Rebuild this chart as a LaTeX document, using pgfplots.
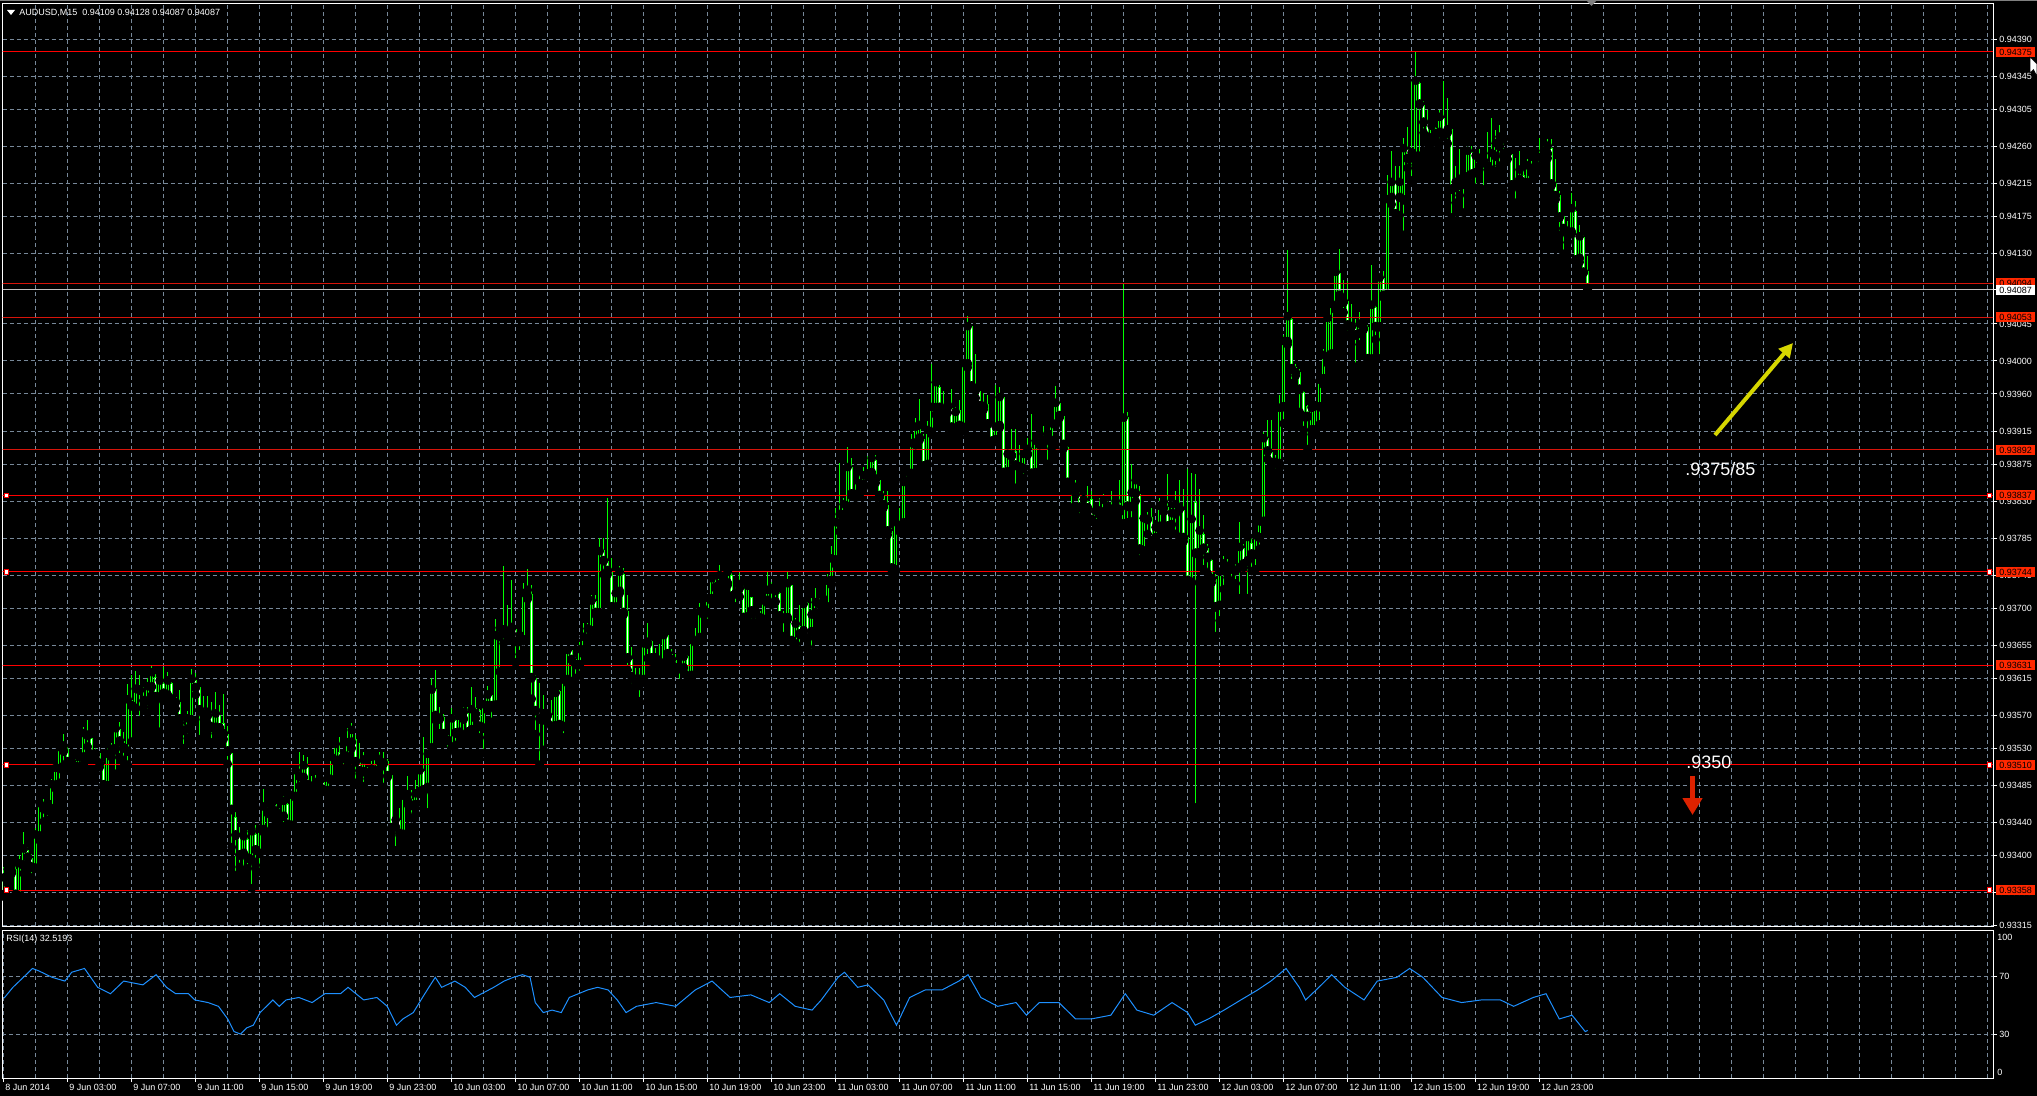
\documentclass[border=0pt]{standalone}
\usepackage{pgfplots}
\pgfplotsset{compat=1.18}
\usepackage{pgfplotstable}
\usepackage{fontspec}
\setmainfont{Liberation Sans}
\newfontfamily\djv{DejaVu Sans}
\usetikzlibrary{arrows.meta}

\definecolor{gridc}{RGB}{119,136,153}
\definecolor{candle}{RGB}{0,255,0}
\definecolor{lvl}{RGB}{255,0,0}
\definecolor{lvld}{RGB}{215,20,10}
\definecolor{lblred}{RGB}{255,40,0}
\definecolor{rsic}{RGB}{30,144,255}
\definecolor{arrowy}{RGB}{214,214,0}
\definecolor{arrowr}{RGB}{221,34,0}

\pgfplotstableread{
i O H L C
0 0.93352 0.93386 0.93350 0.93372
1 0.93374 0.93386 0.93366 0.93382
2 0.93380 0.93390 0.93378 0.93387
3 0.93384 0.93388 0.93348 0.93352
4 0.93350 0.93400 0.93340 0.93389
5 0.93387 0.93429 0.93378 0.93407
6 0.93406 0.93410 0.93390 0.93397
7 0.93397 0.93402 0.93373 0.93385
8 0.93384 0.93433 0.93384 0.93424
9 0.93423 0.93468 0.93418 0.93462
10 0.93462 0.93469 0.93441 0.93456
11 0.93454 0.93465 0.93443 0.93462
12 0.93456 0.93493 0.93456 0.93485
13 0.93485 0.93507 0.93481 0.93505
14 0.93505 0.93530 0.93488 0.93530
15 0.93526 0.93547 0.93509 0.93532
16 0.93529 0.93534 0.93505 0.93513
17 0.93515 0.93519 0.93503 0.93513
18 0.93514 0.93517 0.93501 0.93507
19 0.93507 0.93520 0.93507 0.93518
20 0.93519 0.93556 0.93511 0.93547
21 0.93547 0.93564 0.93532 0.93545
22 0.93542 0.93543 0.93519 0.93522
23 0.93526 0.93530 0.93517 0.93522
24 0.93524 0.93526 0.93507 0.93511
25 0.93510 0.93514 0.93479 0.93485
26 0.93484 0.93530 0.93483 0.93522
27 0.93524 0.93536 0.93519 0.93528
28 0.93529 0.93556 0.93499 0.93553
29 0.93554 0.93562 0.93519 0.93538
30 0.93539 0.93550 0.93513 0.93530
31 0.93526 0.93608 0.93510 0.93588
32 0.93589 0.93619 0.93538 0.93581
33 0.93578 0.93624 0.93578 0.93601
34 0.93602 0.93619 0.93564 0.93600
35 0.93593 0.93604 0.93580 0.93587
36 0.93587 0.93615 0.93573 0.93604
37 0.93604 0.93630 0.93594 0.93621
38 0.93617 0.93620 0.93587 0.93592
39 0.93592 0.93613 0.93550 0.93611
40 0.93609 0.93629 0.93590 0.93596
41 0.93594 0.93623 0.93593 0.93611
42 0.93609 0.93611 0.93587 0.93589
43 0.93592 0.93592 0.93578 0.93585
44 0.93586 0.93601 0.93561 0.93565
45 0.93558 0.93567 0.93530 0.93551
46 0.93553 0.93575 0.93542 0.93565
47 0.93564 0.93626 0.93562 0.93613
48 0.93613 0.93621 0.93595 0.93603
49 0.93604 0.93605 0.93541 0.93576
50 0.93578 0.93594 0.93565 0.93570
51 0.93569 0.93594 0.93560 0.93573
52 0.93575 0.93586 0.93537 0.93555
53 0.93555 0.93598 0.93548 0.93571
54 0.93571 0.93583 0.93541 0.93554
55 0.93561 0.93596 0.93541 0.93547
56 0.93547 0.93557 0.93511 0.93526
57 0.93524 0.93528 0.93410 0.93455
58 0.93447 0.93453 0.93376 0.93424
59 0.93424 0.93435 0.93386 0.93400
60 0.93402 0.93426 0.93381 0.93422
61 0.93420 0.93431 0.93384 0.93396
62 0.93394 0.93431 0.93360 0.93428
63 0.93426 0.93437 0.93388 0.93406
64 0.93402 0.93433 0.93380 0.93431
65 0.93431 0.93480 0.93428 0.93458
66 0.93457 0.93460 0.93428 0.93451
67 0.93453 0.93463 0.93447 0.93461
68 0.93462 0.93463 0.93441 0.93453
69 0.93452 0.93457 0.93445 0.93447
70 0.93447 0.93472 0.93435 0.93465
71 0.93462 0.93463 0.93437 0.93437
72 0.93436 0.93477 0.93435 0.93472
73 0.93471 0.93507 0.93470 0.93502
74 0.93501 0.93525 0.93484 0.93495
75 0.93494 0.93522 0.93485 0.93508
76 0.93507 0.93519 0.93484 0.93485
77 0.93485 0.93496 0.93481 0.93483
78 0.93485 0.93497 0.93475 0.93487
79 0.93490 0.93498 0.93484 0.93492
80 0.93489 0.93491 0.93478 0.93479
81 0.93478 0.93496 0.93477 0.93493
82 0.93491 0.93519 0.93491 0.93518
83 0.93515 0.93536 0.93514 0.93534
84 0.93526 0.93544 0.93507 0.93515
85 0.93517 0.93526 0.93505 0.93521
86 0.93519 0.93555 0.93509 0.93536
87 0.93537 0.93561 0.93530 0.93551
88 0.93541 0.93546 0.93488 0.93513
89 0.93517 0.93536 0.93499 0.93502
90 0.93501 0.93525 0.93484 0.93515
91 0.93503 0.93507 0.93493 0.93499
92 0.93502 0.93514 0.93493 0.93504
93 0.93502 0.93522 0.93495 0.93519
94 0.93520 0.93526 0.93505 0.93514
95 0.93514 0.93525 0.93483 0.93511
96 0.93514 0.93517 0.93495 0.93496
97 0.93497 0.93498 0.93433 0.93433
98 0.93434 0.93445 0.93406 0.93442
99 0.93443 0.93457 0.93424 0.93426
100 0.93425 0.93473 0.93422 0.93471
101 0.93466 0.93496 0.93462 0.93473
102 0.93468 0.93479 0.93445 0.93460
103 0.93461 0.93492 0.93451 0.93474
104 0.93477 0.93509 0.93475 0.93502
105 0.93503 0.93544 0.93477 0.93479
106 0.93482 0.93530 0.93452 0.93522
107 0.93530 0.93615 0.93530 0.93600
108 0.93602 0.93625 0.93564 0.93569
109 0.93569 0.93580 0.93548 0.93565
110 0.93568 0.93572 0.93546 0.93547
111 0.93546 0.93548 0.93524 0.93539
112 0.93530 0.93579 0.93530 0.93565
113 0.93564 0.93567 0.93534 0.93548
114 0.93549 0.93570 0.93547 0.93568
115 0.93565 0.93580 0.93544 0.93573
116 0.93573 0.93580 0.93547 0.93549
117 0.93552 0.93604 0.93552 0.93576
118 0.93579 0.93592 0.93566 0.93571
119 0.93576 0.93578 0.93543 0.93556
120 0.93554 0.93586 0.93524 0.93582
121 0.93581 0.93606 0.93576 0.93594
122 0.93595 0.93596 0.93562 0.93581
123 0.93582 0.93687 0.93581 0.93666
124 0.93665 0.93677 0.93623 0.93675
125 0.93674 0.93751 0.93657 0.93673
126 0.93673 0.93704 0.93667 0.93669
127 0.93675 0.93734 0.93669 0.93676
128 0.93675 0.93677 0.93634 0.93659
129 0.93659 0.93671 0.93644 0.93666
130 0.93661 0.93730 0.93660 0.93717
131 0.93714 0.93747 0.93711 0.93721
132 0.93717 0.93728 0.93590 0.93615
133 0.93615 0.93619 0.93547 0.93575
134 0.93575 0.93609 0.93510 0.93565
135 0.93564 0.93595 0.93528 0.93571
136 0.93571 0.93573 0.93561 0.93569
137 0.93570 0.93589 0.93556 0.93556
138 0.93557 0.93601 0.93550 0.93596
139 0.93600 0.93601 0.93554 0.93558
140 0.93556 0.93615 0.93543 0.93612
141 0.93613 0.93650 0.93609 0.93648
142 0.93649 0.93649 0.93611 0.93637
143 0.93638 0.93641 0.93615 0.93631
144 0.93631 0.93659 0.93619 0.93649
145 0.93649 0.93682 0.93644 0.93664
146 0.93663 0.93682 0.93658 0.93674
147 0.93672 0.93716 0.93662 0.93708
148 0.93709 0.93716 0.93692 0.93694
149 0.93694 0.93785 0.93692 0.93768
150 0.93771 0.93785 0.93741 0.93757
151 0.93757 0.93834 0.93741 0.93745
152 0.93745 0.93761 0.93700 0.93701
153 0.93701 0.93720 0.93699 0.93717
154 0.93720 0.93751 0.93718 0.93743
155 0.93742 0.93749 0.93692 0.93694
156 0.93697 0.93716 0.93625 0.93639
157 0.93638 0.93653 0.93603 0.93616
158 0.93616 0.93627 0.93603 0.93609
159 0.93606 0.93627 0.93587 0.93613
160 0.93613 0.93658 0.93611 0.93656
161 0.93656 0.93682 0.93639 0.93658
162 0.93660 0.93662 0.93635 0.93639
163 0.93641 0.93652 0.93631 0.93639
164 0.93640 0.93656 0.93631 0.93633
165 0.93633 0.93672 0.93631 0.93666
166 0.93667 0.93668 0.93641 0.93644
167 0.93644 0.93650 0.93633 0.93637
168 0.93637 0.93644 0.93625 0.93627
169 0.93628 0.93631 0.93609 0.93626
170 0.93627 0.93641 0.93623 0.93640
171 0.93642 0.93643 0.93616 0.93617
172 0.93618 0.93661 0.93616 0.93660
173 0.93660 0.93676 0.93658 0.93659
174 0.93664 0.93706 0.93663 0.93695
175 0.93694 0.93700 0.93692 0.93698
176 0.93694 0.93716 0.93682 0.93711
177 0.93711 0.93741 0.93709 0.93735
178 0.93732 0.93737 0.93724 0.93725
179 0.93728 0.93753 0.93726 0.93739
180 0.93734 0.93739 0.93732 0.93735
181 0.93730 0.93745 0.93728 0.93743
182 0.93740 0.93743 0.93704 0.93714
183 0.93719 0.93726 0.93702 0.93717
184 0.93724 0.93743 0.93714 0.93728
185 0.93728 0.93729 0.93687 0.93688
186 0.93689 0.93728 0.93680 0.93726
187 0.93713 0.93714 0.93682 0.93696
188 0.93701 0.93702 0.93682 0.93695
189 0.93697 0.93698 0.93682 0.93688
190 0.93686 0.93710 0.93684 0.93708
191 0.93709 0.93744 0.93706 0.93721
192 0.93725 0.93732 0.93704 0.93723
193 0.93724 0.93726 0.93708 0.93721
194 0.93718 0.93720 0.93689 0.93690
195 0.93689 0.93696 0.93666 0.93687
196 0.93688 0.93744 0.93686 0.93729
197 0.93728 0.93728 0.93659 0.93660
198 0.93656 0.93688 0.93647 0.93680
199 0.93678 0.93704 0.93649 0.93668
200 0.93672 0.93708 0.93664 0.93704
201 0.93706 0.93708 0.93653 0.93663
202 0.93671 0.93712 0.93646 0.93691
203 0.93694 0.93724 0.93692 0.93706
204 0.93707 0.93712 0.93694 0.93704
205 0.93703 0.93714 0.93698 0.93710
206 0.93701 0.93741 0.93700 0.93732
207 0.93733 0.93775 0.93728 0.93759
208 0.93758 0.93821 0.93753 0.93803
209 0.93803 0.93876 0.93793 0.93813
210 0.93813 0.93834 0.93809 0.93825
211 0.93823 0.93896 0.93821 0.93870
212 0.93871 0.93882 0.93836 0.93838
213 0.93844 0.93851 0.93834 0.93837
214 0.93841 0.93862 0.93838 0.93850
215 0.93850 0.93871 0.93846 0.93860
216 0.93864 0.93885 0.93860 0.93862
217 0.93864 0.93884 0.93858 0.93881
218 0.93880 0.93886 0.93852 0.93856
219 0.93855 0.93859 0.93834 0.93836
220 0.93836 0.93842 0.93822 0.93825
221 0.93825 0.93842 0.93789 0.93793
222 0.93794 0.93797 0.93743 0.93748
223 0.93746 0.93805 0.93744 0.93803
224 0.93805 0.93821 0.93793 0.93799
225 0.93803 0.93854 0.93793 0.93852
226 0.93854 0.93870 0.93852 0.93864
227 0.93863 0.93911 0.93862 0.93899
228 0.93900 0.93931 0.93898 0.93919
229 0.93906 0.93954 0.93904 0.93921
230 0.93905 0.93911 0.93866 0.93872
231 0.93874 0.93927 0.93864 0.93915
232 0.93913 0.93996 0.93911 0.93943
233 0.93943 0.93975 0.93935 0.93973
234 0.93969 0.93971 0.93933 0.93943
235 0.93944 0.93963 0.93935 0.93940
236 0.93943 0.93951 0.93937 0.93946
237 0.93943 0.93966 0.93917 0.93919
238 0.93915 0.93944 0.93914 0.93937
239 0.93941 0.93953 0.93911 0.93921
240 0.93919 0.94000 0.93917 0.93996
241 0.93996 0.94055 0.93992 0.94041
242 0.94042 0.94044 0.93967 0.93969
243 0.93969 0.94008 0.93955 0.93964
244 0.93964 0.93965 0.93943 0.93945
245 0.93949 0.93961 0.93941 0.93944
246 0.93948 0.93959 0.93923 0.93923
247 0.93923 0.93925 0.93900 0.93902
248 0.93904 0.93971 0.93902 0.93919
249 0.93921 0.93969 0.93919 0.93955
250 0.93956 0.93957 0.93860 0.93864
251 0.93865 0.93888 0.93864 0.93886
252 0.93891 0.93917 0.93884 0.93885
253 0.93891 0.93917 0.93846 0.93873
254 0.93872 0.93898 0.93869 0.93871
255 0.93869 0.93890 0.93858 0.93886
256 0.93887 0.93906 0.93886 0.93892
257 0.93894 0.93936 0.93862 0.93863
258 0.93864 0.93904 0.93858 0.93902
259 0.93899 0.93912 0.93898 0.93910
260 0.93908 0.93921 0.93900 0.93903
261 0.93904 0.93912 0.93875 0.93911
262 0.93903 0.93925 0.93894 0.93923
263 0.93923 0.93970 0.93922 0.93948
264 0.93949 0.93951 0.93931 0.93933
265 0.93933 0.93935 0.93894 0.93898
266 0.93896 0.93898 0.93850 0.93852
267 0.93850 0.93854 0.93822 0.93844
268 0.93842 0.93855 0.93838 0.93846
269 0.93836 0.93842 0.93810 0.93822
270 0.93822 0.93834 0.93817 0.93831
271 0.93830 0.93848 0.93817 0.93821
272 0.93833 0.93842 0.93805 0.93807
273 0.93802 0.93820 0.93796 0.93817
274 0.93819 0.93834 0.93813 0.93817
275 0.93816 0.93839 0.93814 0.93830
276 0.93828 0.93833 0.93816 0.93822
277 0.93827 0.93842 0.93816 0.93819
278 0.93823 0.93834 0.93820 0.93829
279 0.93828 0.93856 0.93817 0.93819
280 0.93802 0.94095 0.93801 0.93930
281 0.93932 0.93938 0.93804 0.93823
282 0.93823 0.93875 0.93805 0.93839
283 0.93839 0.93857 0.93830 0.93854
284 0.93839 0.93848 0.93759 0.93771
285 0.93769 0.93811 0.93766 0.93808
286 0.93808 0.93817 0.93790 0.93807
287 0.93811 0.93822 0.93780 0.93781
288 0.93785 0.93801 0.93778 0.93797
289 0.93799 0.93834 0.93796 0.93823
290 0.93821 0.93833 0.93817 0.93828
291 0.93823 0.93863 0.93796 0.93799
292 0.93801 0.93822 0.93793 0.93814
293 0.93814 0.93842 0.93790 0.93825
294 0.93827 0.93856 0.93784 0.93820
295 0.93819 0.93845 0.93781 0.93785
296 0.93787 0.93869 0.93727 0.93733
297 0.93731 0.93864 0.93730 0.93807
298 0.93829 0.93863 0.93458 0.93766
299 0.93767 0.93845 0.93767 0.93793
300 0.93790 0.93813 0.93747 0.93772
301 0.93773 0.93778 0.93742 0.93761
302 0.93759 0.93763 0.93731 0.93735
303 0.93735 0.93742 0.93666 0.93701
304 0.93703 0.93748 0.93685 0.93743
305 0.93745 0.93763 0.93723 0.93753
306 0.93749 0.93760 0.93737 0.93747
307 0.93747 0.93760 0.93731 0.93754
308 0.93747 0.93754 0.93730 0.93745
309 0.93749 0.93805 0.93712 0.93773
310 0.93773 0.93778 0.93749 0.93753
311 0.93757 0.93787 0.93712 0.93785
312 0.93779 0.93787 0.93745 0.93765
313 0.93765 0.93791 0.93747 0.93787
314 0.93785 0.93808 0.93772 0.93804
315 0.93805 0.93914 0.93804 0.93905
316 0.93906 0.93928 0.93881 0.93890
317 0.93890 0.93928 0.93872 0.93876
318 0.93878 0.93886 0.93864 0.93876
319 0.93875 0.93959 0.93870 0.93942
320 0.93944 0.94032 0.93924 0.94023
321 0.94023 0.94135 0.94020 0.94053
322 0.94051 0.94053 0.93973 0.93990
323 0.93993 0.93996 0.93982 0.93985
324 0.93987 0.93990 0.93938 0.93965
325 0.93962 0.93965 0.93916 0.93932
326 0.93945 0.93947 0.93893 0.93932
327 0.93916 0.93944 0.93911 0.93942
328 0.93916 0.93949 0.93914 0.93944
329 0.93944 0.93981 0.93923 0.93976
330 0.93978 0.94014 0.93971 0.94006
331 0.94002 0.94057 0.93997 0.94051
332 0.94008 0.94074 0.94002 0.94068
333 0.94065 0.94113 0.94062 0.94107
334 0.94107 0.94136 0.94074 0.94079
335 0.94077 0.94098 0.94059 0.94071
336 0.94073 0.94097 0.94032 0.94043
337 0.94045 0.94069 0.94032 0.94041
338 0.94043 0.94051 0.93993 0.94031
339 0.94033 0.94059 0.94020 0.94044
340 0.94039 0.94050 0.94038 0.94045
341 0.94041 0.94044 0.94000 0.94002
342 0.94002 0.94117 0.94000 0.94067
343 0.94065 0.94069 0.94026 0.94041
344 0.94041 0.94104 0.94003 0.94100
345 0.94101 0.94109 0.94077 0.94079
346 0.94080 0.94226 0.94075 0.94195
347 0.94198 0.94255 0.94190 0.94216
348 0.94216 0.94237 0.94174 0.94178
349 0.94198 0.94237 0.94177 0.94216
350 0.94195 0.94271 0.94153 0.94257
351 0.94257 0.94284 0.94234 0.94245
352 0.94246 0.94340 0.94219 0.94252
353 0.94248 0.94375 0.94238 0.94339
354 0.94337 0.94341 0.94249 0.94311
355 0.94311 0.94316 0.94277 0.94289
356 0.94289 0.94305 0.94264 0.94271
357 0.94269 0.94287 0.94264 0.94284
358 0.94283 0.94286 0.94269 0.94275
359 0.94277 0.94304 0.94264 0.94295
360 0.94295 0.94340 0.94272 0.94275
361 0.94277 0.94319 0.94264 0.94280
362 0.94281 0.94283 0.94174 0.94208
363 0.94210 0.94237 0.94192 0.94216
364 0.94213 0.94257 0.94201 0.94219
365 0.94214 0.94228 0.94180 0.94224
366 0.94222 0.94261 0.94219 0.94254
367 0.94254 0.94261 0.94213 0.94226
368 0.94228 0.94251 0.94210 0.94248
369 0.94246 0.94257 0.94237 0.94245
370 0.94245 0.94248 0.94208 0.94242
371 0.94243 0.94278 0.94232 0.94236
372 0.94231 0.94295 0.94228 0.94251
373 0.94248 0.94280 0.94230 0.94263
374 0.94260 0.94287 0.94237 0.94271
375 0.94271 0.94274 0.94252 0.94269
376 0.94254 0.94257 0.94245 0.94252
377 0.94251 0.94252 0.94208 0.94213
378 0.94214 0.94246 0.94192 0.94213
379 0.94220 0.94255 0.94218 0.94231
380 0.94226 0.94232 0.94213 0.94216
381 0.94216 0.94245 0.94214 0.94236
382 0.94236 0.94243 0.94228 0.94232
383 0.94232 0.94240 0.94230 0.94237
384 0.94234 0.94271 0.94231 0.94246
385 0.94245 0.94261 0.94243 0.94254
386 0.94251 0.94269 0.94246 0.94260
387 0.94258 0.94269 0.94213 0.94214
388 0.94216 0.94245 0.94196 0.94200
389 0.94202 0.94206 0.94153 0.94174
390 0.94176 0.94177 0.94130 0.94160
391 0.94160 0.94170 0.94144 0.94154
392 0.94156 0.94204 0.94154 0.94184
393 0.94182 0.94194 0.94112 0.94122
394 0.94124 0.94165 0.94120 0.94150
395 0.94150 0.94153 0.94107 0.94107
396 0.94109 0.94128 0.94087 0.94087
}\candles

\pgfplotstableread{
i v
0.1 54.8
2.3 62.2
5.6 70.9
7.2 75.2
8.8 73.5
12.1 69.1
15.3 66.5
17.0 72.6
20.2 75.2
23.5 62.2
26.7 57.8
30.0 66.5
34.8 63.9
38.1 70.9
40.7 62.2
43.0 57.8
46.2 57.8
47.8 53.5
51.1 51.7
53.7 49.1
56.0 40.4
57.6 31.7
59.2 30.0
60.8 34.3
62.4 36.1
64.1 44.8
65.7 49.1
67.3 53.5
68.9 49.1
70.6 53.5
73.8 55.2
77.1 51.7
80.3 57.8
84.2 57.8
86.1 62.2
90.0 53.5
93.3 55.2
95.9 49.1
98.2 36.1
99.8 40.4
102.4 44.8
104.7 55.2
106.3 62.2
107.9 69.1
109.5 62.2
112.8 66.5
115.4 62.2
117.7 55.2
122.5 62.2
125.1 66.5
127.4 69.1
129.7 70.9
131.6 69.1
132.9 51.7
134.9 44.8
137.1 46.5
139.4 44.8
141.4 55.2
146.0 60.4
148.5 62.2
151.1 60.4
153.4 53.5
155.6 44.8
158.2 49.1
163.1 51.7
168.0 49.1
172.9 60.4
177.1 66.5
181.6 55.2
186.8 57.0
191.4 51.7
194.0 57.8
197.9 49.1
202.1 46.5
204.4 53.5
208.6 69.1
210.2 72.6
213.5 62.2
216.1 63.9
220.0 53.5
223.2 36.1
226.5 55.2
230.4 60.4
234.6 60.4
238.8 66.5
241.1 70.9
244.3 55.2
248.5 49.1
253.1 51.7
255.7 43.0
258.9 51.7
263.8 51.7
268.0 40.4
271.9 40.4
276.8 43.0
280.4 57.8
283.3 46.5
287.5 43.0
292.1 51.7
296.0 44.8
297.9 36.1
301.2 40.4
305.1 46.5
309.3 53.5
313.5 60.4
316.8 66.5
320.6 75.2
323.9 62.2
325.5 53.5
328.8 62.2
332.0 70.9
335.3 62.2
340.1 53.5
343.4 66.5
348.3 69.1
351.5 75.2
354.8 69.1
359.6 55.2
364.5 51.7
369.4 53.5
374.2 53.5
377.5 49.1
382.4 55.2
385.6 57.8
388.9 40.4
392.1 43.0
395.4 31.7
396.0 32.5
}\rsi

\pgfplotsset{
  cbar/.style={only marks, mark=none, forget plot,
    error bars/.cd, y dir=plus, y explicit, error mark=none,
    error bar style={line cap=butt, #1}},
}
\newcommand\sm{\fontsize{4.5pt}{5pt}\selectfont}

\begin{document}
\begin{tikzpicture}[x=0.5pt,y=-0.5pt]
\path[use as bounding box] (0,0) rectangle (2037,1096);
\fill[black] (0,0) rectangle (2037,1096);
\draw[gray, line width=0.5pt] (0,0.5) -- (2037,0.5);

% ---------------- main price panel ----------------
\begin{axis}[
  at={(1.25pt,-2pt)}, anchor=north west, scale only axis,
  width=995.25pt, height=461pt,
  xmin=-0.3, xmax=497.35, ymin=0.9331432, ymax=0.9443325,
  axis line style={white, line width=0.5pt},
  xtick={8,16,...,496}, xticklabels={},
  ytick={0.94390,0.94345,0.94305,0.94260,0.94215,0.94175,0.94130,0.94087,0.94045,0.94000,0.93960,0.93915,0.93875,0.93830,0.93785,0.93740,0.93700,0.93655,0.93615,0.93570,0.93530,0.93485,0.93440,0.93400,0.93355,0.93315},
  yticklabels={0.94390,0.94345,0.94305,0.94260,0.94215,0.94175,0.94130,0.94087,0.94045,0.94000,0.93960,0.93915,0.93875,0.93830,0.93785,0.93740,0.93700,0.93655,0.93615,0.93570,0.93530,0.93485,0.93440,0.93400,0.93355,0.93315},
  scaled y ticks=false,
  ytick pos=right,
  xmajorgrids, ymajorgrids,
  grid style={gridc, dash pattern=on 2pt off 1.5pt, line width=0.5pt},
  tick align=outside, major tick length=2pt,
  xtick style={draw=none},
  ytick style={white, line width=0.5pt},
  yticklabel style={font=\sm, text=white, anchor=west, inner xsep=1pt, inner ysep=0pt},
]
% wicks
\addplot[cbar={candle, line width=0.5pt}] table[x=i, y=L, y error plus expr={\thisrow{H}-\thisrow{L}}] {\candles};
% body outlines
\addplot[cbar={candle, line width=1.5pt}] table[x=i, y expr={min(\thisrow{O},\thisrow{C})}, y error plus expr={max(abs(\thisrow{C}-\thisrow{O}),0.0000121)}] {\candles};
% bull interior (black)
\addplot[cbar={black, line width=0.5pt}] table[x=i, y expr={min(\thisrow{O},\thisrow{C})+0.0000121}, y error plus expr={max(abs(\thisrow{C}-\thisrow{O})-0.0000242,0)}] {\candles};
% bear interior (white)
\addplot[cbar={white, line width=0.5pt}] table[x=i, y expr={\thisrow{C}+0.0000121}, y error plus expr={max(\thisrow{O}-\thisrow{C}-0.0000242,0)}] {\candles};

% horizontal level lines
\addplot[lvl, line width=0.5pt, forget plot] coordinates {(-1,0.94375) (500,0.94375)};
\addplot[lvld, line width=0.5pt, forget plot] coordinates {(-1,0.94094) (500,0.94094)};
\addplot[lightgray, line width=0.5pt, forget plot] coordinates {(-1,0.94087) (500,0.94087)};
\addplot[lvld, line width=0.5pt, forget plot] coordinates {(-1,0.94053) (500,0.94053)};
\addplot[lvld, line width=0.5pt, forget plot] coordinates {(-1,0.93892) (500,0.93892)};
\addplot[lvl, line width=0.5pt, forget plot] coordinates {(-1,0.93837) (500,0.93837)};
\addplot[lvl, line width=0.5pt, forget plot] coordinates {(-1,0.93744) (500,0.93744)};
\addplot[lvl, line width=0.5pt, forget plot] coordinates {(-1,0.93631) (500,0.93631)};
\addplot[lvl, line width=0.5pt, forget plot] coordinates {(-1,0.93510) (500,0.93510)};
\addplot[lvl, line width=0.5pt, forget plot] coordinates {(-1,0.93358) (500,0.93358)};
% selection handles
\addplot[only marks, mark=square*, mark size=1.1pt, mark options={fill=white, draw=lvl, line width=0.4pt}, forget plot]
  coordinates {(0.7,0.93837) (496.5,0.93837) (0.7,0.93744) (496.5,0.93744) (0.7,0.93510) (496.5,0.93510) (0.7,0.93358) (496.5,0.93358)};
\end{axis}

% ---------------- RSI panel ----------------
\begin{axis}[
  at={(1.25pt,-465pt)}, anchor=north west, scale only axis,
  width=995.25pt, height=74pt,
  xmin=-0.3, xmax=497.35, ymin=-0.3, ymax=101.7,
  axis line style={white, line width=0.5pt},
  xtick={0,16,...,384},
  xticklabels={8 Jun 2014, 9 Jun 03:00, 9 Jun 07:00, 9 Jun 11:00, 9 Jun 15:00, 9 Jun 19:00, 9 Jun 23:00, 10 Jun 03:00, 10 Jun 07:00, 10 Jun 11:00, 10 Jun 15:00, 10 Jun 19:00, 10 Jun 23:00, 11 Jun 03:00, 11 Jun 07:00, 11 Jun 11:00, 11 Jun 15:00, 11 Jun 19:00, 11 Jun 23:00, 12 Jun 03:00, 12 Jun 07:00, 12 Jun 11:00, 12 Jun 15:00, 12 Jun 19:00, 12 Jun 23:00},
  minor xtick={8,16,...,496},
  xmajorgrids, xminorgrids, ymajorgrids,
  grid style={gridc, dash pattern=on 2pt off 1.5pt, line width=0.5pt},
  ytick={30,70}, yticklabels={30,70},
  ytick pos=right, xtick pos=bottom,
  tick align=outside, major tick length=2pt, minor tick length=0pt,
  xtick style={white, line width=0.5pt},
  ytick style={white, line width=0.5pt},
  xticklabel style={font=\sm, text=white, anchor=north west, inner xsep=0.6pt, inner ysep=1pt},
  yticklabel style={font=\sm, text=white, anchor=west, inner xsep=1pt, inner ysep=0pt},
]
\addplot[rsic, line width=0.5pt] table[x=i, y=v] {\rsi};
\end{axis}

% ---------------- right-side price boxes ----------------
\tikzset{lbl/.style={fill=lblred, text=black, font=\sm, anchor=west, inner xsep=1.5pt, inner ysep=0pt, minimum height=5pt, text height=3.3pt, text depth=0pt}}
\node[lbl] at (1996,52.0) {0.94375};
\node[lbl] at (1996,283.5) {0.94094};
\node[lbl, fill=white] at (1996,289.8) {0.94087};
\node[lbl] at (1996,317.3) {0.94053};
\node[lbl] at (1996,450.0) {0.93892};
\node[lbl] at (1996,495.3) {0.93837};
\node[lbl] at (1996,571.9) {0.93744};
\node[lbl] at (1996,665.1) {0.93631};
\node[lbl] at (1996,764.8) {0.93510};
\node[lbl] at (1996,890.0) {0.93358};

% RSI extremes
\node[font=\sm, text=white, anchor=west, inner sep=0pt] at (1997,937) {100};
\node[font=\sm, text=white, anchor=west, inner sep=0pt] at (1997,1072.5) {0};

% header texts
\fill[white] (7,10) -- (15,10) -- (11,15) -- cycle;
\node[font=\sm, text=white, anchor=west, inner sep=0pt] at (19,13) {AUDUSD,M15\ \ 0.94109 0.94128 0.94087 0.94087};
\node[font=\sm, text=white, anchor=west, inner sep=0pt] at (6,939) {RSI(14) 32.5193};

% chart shift marker and cursor
\fill[gray] (1587,1) -- (1596,1) -- (1591.5,6) -- cycle;
\filldraw[fill=white, draw=black, line width=0.3pt] (2030,57) -- (2030,73) -- (2033.5,69.5) -- (2036.5,75.5) -- (2037,75) -- (2037,64) -- cycle;

% annotations
\draw[arrowy, line width=2pt, -{Triangle[length=7pt, width=7pt]}] (1715,435) -- (1793,343);
\node[font=\fontsize{9pt}{10pt}\selectfont, text=white, anchor=base west, inner sep=0pt] at (1685,475.5) {.9375/85};
\node[font=\fontsize{9pt}{10pt}\selectfont, text=white, anchor=base west, inner sep=0pt] at (1686,768.5) {.9350};
\draw[arrowr, line width=2.5pt, -{Triangle[length=8.5pt, width=9.5pt]}] (1692.5,776) -- (1692.5,815);
\end{tikzpicture}
\end{document}
